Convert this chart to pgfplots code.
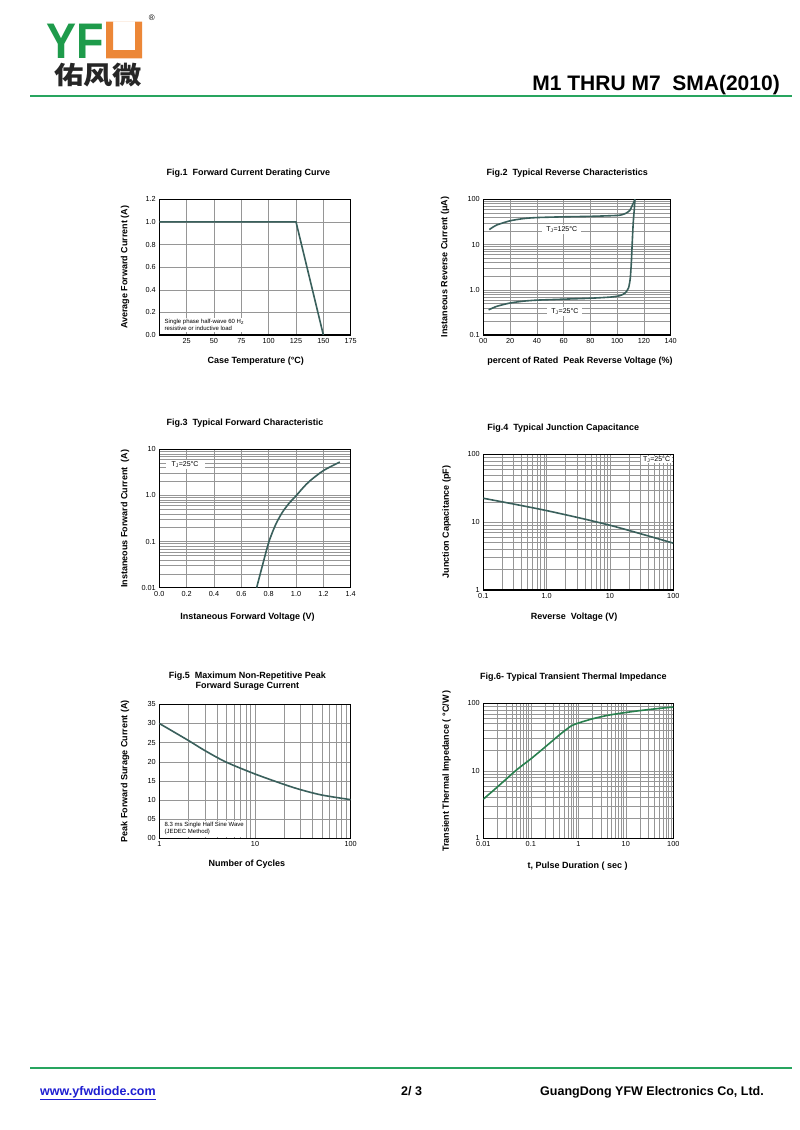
\documentclass[border=0pt]{standalone}
\usepackage{fontspec}
\setmainfont{Liberation Sans}
\newfontfamily\cjk{Noto Sans CJK SC}
\usepackage{pgfplots}
\pgfplotsset{compat=1.18}
\definecolor{curvecol}{RGB}{58,96,92}
\definecolor{greencurve}{RGB}{40,128,78}
\definecolor{logogreen}{RGB}{30,155,75}
\definecolor{logoorange}{RGB}{236,135,55}
\definecolor{rulegreen}{RGB}{40,165,95}
\definecolor{linkblue}{RGB}{30,30,210}
\definecolor{gridgray}{RGB}{150,150,150}
\pgfplotsset{
 dsheet/.style={
  scale only axis,
  axis line style={line width=1.1pt, black},
  tick style={draw=none},
  grid style={gridgray, line width=0.45pt},
  minor grid style={gridgray, line width=0.45pt},
  tick label style={font=\fontsize{7.3}{8}\selectfont},
  every axis y label/.style={at={(axis description cs:0,0.5)}, rotate=90, anchor=center, font=\bfseries\fontsize{9}{10}\selectfont},
  every axis x label/.style={at={(axis description cs:0.5,0)}, anchor=center, font=\bfseries\fontsize{9}{10}\selectfont},
  every axis title/.style={at={(axis description cs:0.5,1)}, anchor=center, font=\bfseries\fontsize{9}{10}\selectfont},
  every axis plot/.append style={line width=1.6pt, curvecol, no marks},
  anchor=south west,
 },
}
\tikzset{tjlabel/.style={fill=white, inner xsep=4pt, inner ysep=1.5pt, font=\fontsize{7}{8}\selectfont}}
\begin{document}
\begin{tikzpicture}
\fill[white] (0,0) rectangle (800pt,-1130pt);
\useasboundingbox (0,0) rectangle (800pt,-1130pt);
% ---------------- header ----------------
\node[anchor=base west, inner sep=0, text depth=0pt, text=logogreen, font=\bfseries\fontsize{50}{50}\selectfont] at (46pt,-58.3pt) {\scalebox{0.9}[1]{YF}};
\fill[logoorange, even odd rule] (106pt,-21.7pt) rectangle (142pt,-58.3pt) (113pt,-21.7pt) rectangle (135pt,-50pt);
\node[inner sep=0, font=\fontsize{8}{8}\selectfont] at (151.7pt,-18pt) {®};
\node[anchor=base west, inner sep=0, text height=20pt, text depth=0pt, text=black!85, font=\cjk\bfseries\fontsize{25}{25}\selectfont] at (54pt,-84pt) {\scalebox{1.17}[1]{佑风微}};
\node[anchor=base east, inner sep=0, font=\bfseries\fontsize{21}{21}\selectfont] at (780pt,-90pt) {M1 THRU M7\ \ SMA(2010)};
\draw[rulegreen, line width=2.5pt] (30pt,-96pt) -- (792pt,-96pt);
% ---------------- footer ----------------
\draw[rulegreen, line width=2.5pt] (30pt,-1068pt) -- (792pt,-1068pt);
\node[anchor=base west, inner sep=0, text=linkblue, font=\bfseries\fontsize{12.5}{13}\selectfont] at (40pt,-1095pt) {\underline{www.yfwdiode.com}};
\node[anchor=base west, inner sep=0, font=\bfseries\fontsize{12.5}{13}\selectfont] at (401pt,-1095pt) {2/ 3};
\node[anchor=base east, inner sep=0, font=\bfseries\fontsize{12.5}{13}\selectfont] at (764pt,-1095pt) {GuangDong YFW Electronics Co, Ltd.};

% ---------------- Fig.1 ----------------
\begin{axis}[dsheet, at={(159.3pt,-335pt)}, width=191.4pt, height=135.7pt,
 xmin=0, xmax=175, ymin=0, ymax=1.2,
 xtick={25,50,75,100,125,150,175}, xticklabels={25,50,75,100,125,150,175},
 ytick={0,0.2,0.4,0.6,0.8,1.0,1.2}, yticklabels={0.0,0.2,0.4,0.6,0.8,1.0,1.2},
 grid=major,
 title={Fig.1\ \ Forward Current Derating Curve},
 title style={at={(axis description cs:0.465,1.194)}},
 xlabel={Case Temperature (°C)},
 xlabel style={at={(axis description cs:0.504,-0.192)}},
 ylabel={Average Forward Current (A)},
 ylabel style={at={(axis description cs:-0.179,0.5)}},
]
\addplot[curvecol] coordinates {(0,1.0) (125,1.0) (150,0.0)};
\node[fill=white, anchor=south west, align=left, inner sep=1.5pt, font=\fontsize{6}{6.8}\selectfont] at (axis description cs:0.019,0.022) {Single phase half-wave 60 H\textsubscript{z}\\resistive or inductive load};
\end{axis}

% ---------------- Fig.2 ----------------
\begin{axis}[dsheet, at={(483.3pt,-335pt)}, width=187.4pt, height=135.7pt,
 xmin=0, xmax=140, ymode=log, ymin=0.1, ymax=100,
 xtick={0,20,40,60,80,100,120,140}, xticklabels={00,20,40,60,80,100,120,140},
 ytick={0.1,1,10,100}, yticklabels={0.1,1.0,10,100},
 minor ytick={0.2,0.3,0.4,0.5,0.6,0.7,0.8,0.9,2,3,4,5,6,7,8,9,20,30,40,50,60,70,80,90},
 grid=both,
 title={Fig.2\ \ Typical Reverse Characteristics},
 title style={at={(axis description cs:0.448,1.192)}},
 xlabel={percent of Rated\ \ Peak Reverse Voltage (\%)},
 xlabel style={at={(axis description cs:0.516,-0.192)}},
 ylabel={Instaneous Reverse Current (μA)},
 ylabel style={at={(axis description cs:-0.204,0.5)}},
]
\addplot[smooth, tension=0.4] coordinates {(4.5,21.5) (10,27) (20,33.5) (30,37.5) (40,39.5) (60,41) (80,42) (100,44) (104,46) (107,50) (109.5,57) (111,70) (112.3,85) (113.3,100)};
\addplot[smooth, tension=0.4] coordinates {(4,0.36) (10,0.43) (20,0.51) (30,0.56) (40,0.59) (60,0.62) (80,0.65) (95,0.69) (102,0.74) (106,0.85) (108.5,1.1) (109.8,1.8) (110.6,4) (111.2,10) (112,30) (112.8,60) (113.3,100)};
\node[tjlabel] at (axis cs:58.6,21) {T\textsubscript{J}=125°C};
\node[tjlabel] at (axis cs:61,0.33) {T\textsubscript{J}=25°C};
\end{axis}

% ---------------- Fig.3 ----------------
\begin{axis}[dsheet, at={(159.3pt,-587.7pt)}, width=191.4pt, height=138.4pt,
 xmin=0, xmax=1.4, ymode=log, ymin=0.01, ymax=10,
 xtick={0,0.2,0.4,0.6,0.8,1.0,1.2,1.4}, xticklabels={0.0,0.2,0.4,0.6,0.8,1.0,1.2,1.4},
 ytick={0.01,0.1,1,10}, yticklabels={0.01,0.1,1.0,10},
 minor ytick={0.02,0.03,0.04,0.05,0.06,0.07,0.08,0.09,0.2,0.3,0.4,0.5,0.6,0.7,0.8,0.9,2,3,4,5,6,7,8,9},
 grid=both,
 title={Fig.3\ \ Typical Forward Characteristic},
 title style={at={(axis description cs:0.448,1.188)}},
 xlabel={Instaneous Forward Voltage (V)},
 xlabel style={at={(axis description cs:0.461,-0.210)}},
 ylabel={Instaneous Forward Current\ \ (A)},
 ylabel style={at={(axis description cs:-0.179,0.5)}},
]
\addplot[smooth, tension=0.5] coordinates {(0.712,0.01) (0.75,0.027) (0.8,0.095) (0.85,0.23) (0.9,0.43) (0.95,0.68) (1.0,0.98) (1.05,1.45) (1.1,2.05) (1.2,3.45) (1.32,5.3)};
\node[tjlabel, inner xsep=6pt] at (axis cs:0.188,4.73) {T\textsubscript{J}=25°C};
\end{axis}

% ---------------- Fig.4 ----------------
\begin{axis}[dsheet, at={(483.3pt,-590pt)}, width=190pt, height=135.7pt,
 xmode=log, ymode=log, xmin=0.1, xmax=100, ymin=1, ymax=100,
 xtick={0.1,1,10,100}, xticklabels={0.1,1.0,10,100},
 ytick={1,10,100}, yticklabels={1,10,100},
 minor xtick={0.2,0.3,0.4,0.5,0.6,0.7,0.8,0.9,2,3,4,5,6,7,8,9,20,30,40,50,60,70,80,90},
 minor ytick={2,3,4,5,6,7,8,9,20,30,40,50,60,70,80,90},
 grid=both,
 title={Fig.4\ \ Typical Junction Capacitance},
 title style={at={(axis description cs:0.421,1.196)}},
 xlabel={Reverse\ \ Voltage (V)},
 xlabel style={at={(axis description cs:0.478,-0.197)}},
 ylabel={Junction Capacitance (pF)},
 ylabel style={at={(axis description cs:-0.193,0.5)}},
]
\addplot[smooth] coordinates {(0.1,22.5) (1,14.8) (10,9.0) (100,4.9)};
\node[tjlabel, anchor=north east, inner xsep=2pt, inner ysep=1pt] at ([xshift=-1pt,yshift=-1pt]axis description cs:1,1) {T\textsubscript{J}=25°C};
\end{axis}

% ---------------- Fig.5 ----------------
\begin{axis}[dsheet, at={(159.3pt,-838.3pt)}, width=191.4pt, height=134pt,
 xmode=log, xmin=1, xmax=100, ymin=0, ymax=35,
 xtick={1,10,100}, xticklabels={1,10,100},
 minor xtick={2,3,4,5,6,7,8,9,20,30,40,50,60,70,80,90},
 ytick={0,5,10,15,20,25,30,35}, yticklabels={00,05,10,15,20,25,30,35},
 grid=both,
 title={Fig.5\ \ Maximum Non-Repetitive Peak\\Forward Surage Current},
 title style={at={(axis description cs:0.460,1.175)}, align=center},
 xlabel={Number of Cycles},
 xlabel style={at={(axis description cs:0.457,-0.192)}},
 ylabel={Peak Forward Surage Current (A)},
 ylabel style={at={(axis description cs:-0.179,0.5)}},
]
\addplot[smooth] coordinates {(1,30) (2,25.6) (3,22.9) (5,19.9) (10,16.8) (20,14.1) (30,12.7) (50,11.3) (100,10.1)};
\node[fill=white, anchor=south west, align=left, inner sep=1.5pt, font=\fontsize{6}{6.8}\selectfont] at (axis description cs:0.019,0.012) {8.3 ms Single Half Sine Wave\\(JEDEC Method)};
\end{axis}

% ---------------- Fig.6 ----------------
\begin{axis}[dsheet, at={(483.3pt,-838.3pt)}, width=190pt, height=135pt,
 xmode=log, ymode=log, xmin=0.01, xmax=100, ymin=1, ymax=100,
 xtick={0.01,0.1,1,10,100}, xticklabels={0.01,0.1,1,10,100},
 ytick={1,10,100}, yticklabels={1,10,100},
 minor xtick={0.02,0.03,0.04,0.05,0.06,0.07,0.08,0.09,0.2,0.3,0.4,0.5,0.6,0.7,0.8,0.9,2,3,4,5,6,7,8,9,20,30,40,50,60,70,80,90},
 minor ytick={2,3,4,5,6,7,8,9,20,30,40,50,60,70,80,90},
 grid=both,
 title={Fig.6- Typical Transient Thermal Impedance},
 title style={at={(axis description cs:0.474,1.197)}},
 xlabel={t, Pulse Duration ( sec )},
 xlabel style={at={(axis description cs:0.496,-0.205)}},
 ylabel={Transient Thermal Impedance ( °C/W )},
 ylabel style={at={(axis description cs:-0.193,0.5)}},
]
\addplot[greencurve, smooth, tension=0.4] coordinates {(0.01,3.8) (0.02,5.8) (0.05,10.3) (0.1,15) (0.2,22.5) (0.4,34) (0.7,46) (1,51) (2,59) (4,66) (8,71.5) (20,78) (50,84) (100,88)};
\end{axis}
\end{tikzpicture}
\end{document}
